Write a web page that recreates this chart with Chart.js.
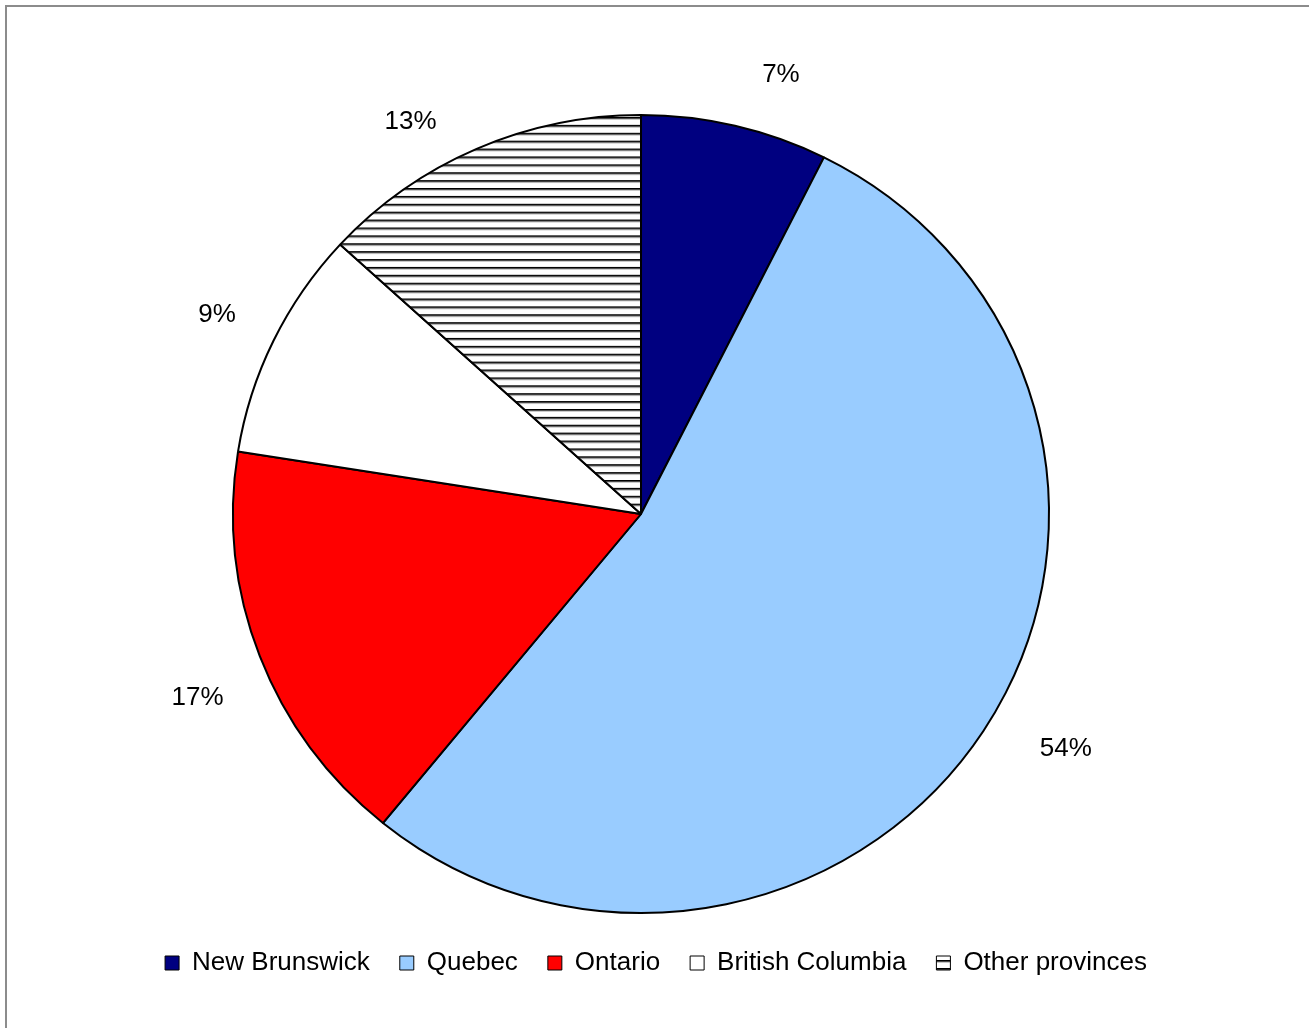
<!DOCTYPE html>
<html>
<head>
<meta charset="utf-8">
<title>Provincial shares</title>
<script src="https://cdn.jsdelivr.net/npm/chart.js@4.4.0/dist/chart.umd.min.js"></script>
<style>
  html, body { margin: 0; padding: 0; background: #fff; overflow: hidden; }
  #wrap { position: relative; width: 1309px; height: 1028px; overflow: hidden; }
  #frame { position: absolute; left: 5px; top: 5px; width: 1400px; height: 1100px;
           border: 2px solid #8c8c8c; box-sizing: border-box; }
  #c { position: absolute; left: 0; top: 0; }
</style>
</head>
<body>
<div id="wrap">
  <div id="frame"></div>
  <canvas id="c" width="1309" height="1028"></canvas>
</div>
<script>
// Slice categories and their shares (percent of total)
const provinces = ['New Brunswick', 'Quebec', 'Ontario', 'British Columbia', 'Other provinces'];
const shares = [7.4, 53.5, 16.6, 9.3, 13.2];
const fills = ['#000080', '#99CCFF', '#FF0000', '#FFFFFF', 'hatch'];

// Fine placement of each percentage label (pixels, applied after radial placement)
const labelShift = [[31, 7], [22, -14], [5, 21], [2, 0], [-37, 27]];

// Pie footprint on the page: centre and the two radii (slightly wider than tall)
const PIE = { cx: 641, cy: 514, rx: 408, ry: 399 };
// Horizontal offset of the legend row
const LEGEND_DX = 15;

const FONT = '"Liberation Sans", Arial, Helvetica, sans-serif';

// Horizontal line hatching for the "Other provinces" slice
function makeHatch() {
  const p = document.createElement('canvas');
  p.width = 8; p.height = 8;
  const g = p.getContext('2d');
  g.fillStyle = '#ffffff';
  g.fillRect(0, 0, 8, 8);
  g.fillStyle = '#000000';
  g.fillRect(0, 0, 8, 1);
  g.fillStyle = '#4a4a4a';
  g.fillRect(0, 1, 8, 1);
  g.fillStyle = '#c8c8c8';
  g.fillRect(0, 2, 8, 1);
  return document.getElementById('c').getContext('2d').createPattern(p, 'repeat');
}
const hatch = makeHatch();
const bg = fills.map(f => f === 'hatch' ? hatch : f);

function arcGeom(chart) {
  const arc = chart.getDatasetMeta(0).data[0];
  return arc.getProps(['x', 'y', 'outerRadius'], true);
}

// Places the pie on its slightly oval footprint and writes the percentage labels
const pieShape = {
  id: 'pieShape',
  afterLayout(chart) {
    chart.legend.left += LEGEND_DX;
    chart.legend.right += LEGEND_DX;
  },
  beforeDatasetsDraw(chart) {
    const g = arcGeom(chart);
    const ctx = chart.ctx;
    ctx.save();
    ctx.translate(PIE.cx, PIE.cy);
    ctx.scale(PIE.rx / g.outerRadius, PIE.ry / g.outerRadius);
    ctx.translate(-g.x, -g.y);
  },
  afterDatasetsDraw(chart) {
    const ctx = chart.ctx;
    ctx.restore();
    const meta = chart.getDatasetMeta(0);
    const data = chart.data.datasets[0].data;
    const total = data.reduce((a, b) => a + b, 0);
    ctx.save();
    ctx.font = '26px ' + FONT;
    ctx.fillStyle = '#000';
    ctx.textAlign = 'center';
    ctx.textBaseline = 'middle';
    meta.data.forEach((arc, i) => {
      const p = arc.getProps(['startAngle', 'endAngle'], true);
      const mid = (p.startAngle + p.endAngle) / 2;
      const txt = Math.round(data[i] / total * 100) + '%';
      const w = ctx.measureText(txt).width;
      const h = 26;
      const gap = 46;
      const x = PIE.cx + Math.cos(mid) * (PIE.rx + gap + w / 2) + labelShift[i][0];
      const y = PIE.cy + Math.sin(mid) * (PIE.ry + gap + h / 2) + labelShift[i][1];
      ctx.fillText(txt, x, y);
    });
    ctx.restore();
  }
};

new Chart(document.getElementById('c'), {
  type: 'pie',
  data: {
    labels: provinces,
    datasets: [{
      data: shares,
      backgroundColor: bg,
      borderColor: '#000000',
      borderWidth: 2
    }]
  },
  options: {
    responsive: false,
    animation: false,
    events: [],
    layout: { padding: { top: 109, left: 0, right: 27, bottom: 42 } },
    plugins: {
      tooltip: { enabled: false },
      legend: {
        position: 'bottom',
        labels: {
          boxWidth: 14,
          boxHeight: 14,
          padding: 30,
          color: '#000',
          font: { family: FONT, size: 26 },
          generateLabels(chart) {
            const items = Chart.overrides.pie.plugins.legend.labels.generateLabels(chart);
            items.forEach(it => { it.lineWidth = 1; it.strokeStyle = '#000'; });
            return items;
          }
        }
      }
    }
  },
  plugins: [pieShape]
});
</script>
</body>
</html>
